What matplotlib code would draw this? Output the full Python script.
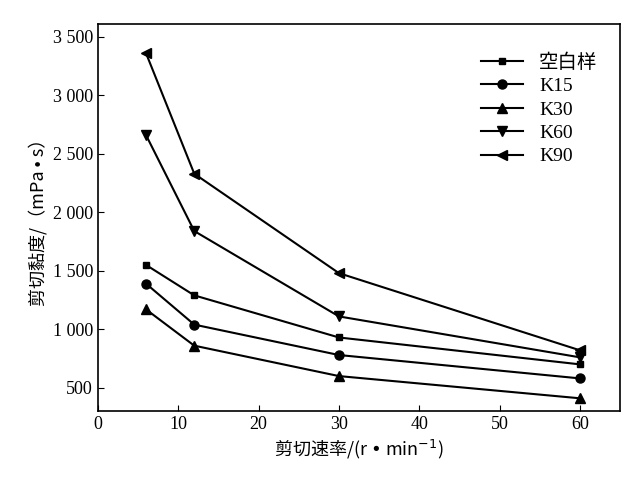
import matplotlib
matplotlib.use("Agg")
import matplotlib.pyplot as plt
from matplotlib.ticker import FuncFormatter

cjk = ['Noto Sans CJK SC', 'Noto Sans CJK JP', 'Noto Sans CJK TC', 'Noto Sans CJK KR']
plt.rcParams['font.family'] = ['Liberation Serif'] + cjk

x = [6, 12, 30, 60]
labels = ["空白样", "K15", "K30", "K60", "K90"]
blank = [1550, 1290, 930, 700]
k15 = [1390, 1040, 780, 580]
k30 = [1170, 860, 600, 410]
k60 = [2660, 1840, 1110, 760]
k90 = [3360, 2330, 1480, 820]
markers = ['s', 'o', '^', 'v', '<']

fig = plt.figure(figsize=(6.31, 4.92), dpi=100)
ax = fig.add_axes([0.155, 0.165, 0.828, 0.786])
for ys, lab, m in zip([blank, k15, k30, k60, k90], labels, markers):
	ax.plot(x, ys, color='black', lw=1.5, marker=m, ms=6.5 if m != 's' else 5, label=lab)

ax.set_xlim(0, 65)
ax.set_ylim(303, 3609)
ax.set_xticks([0, 10, 20, 30, 40, 50, 60])
ax.set_yticks([500, 1000, 1500, 2000, 2500, 3000, 3500])
ax.yaxis.set_major_formatter(FuncFormatter(lambda v, p: "{:,}".format(int(v)).replace(",", " ")))
ax.tick_params(labelsize=13, direction='in', length=4)
for s in ax.spines.values():
	s.set_linewidth(1.2)
ax.set_xlabel("剪切速率/(r • min$^{-1}$)", fontsize=13, family=cjk)
ax.set_ylabel("剪切黏度/（mPa • s）", fontsize=13, family=cjk)
ax.legend(frameon=False, loc='upper right', bbox_to_anchor=(0.99, 0.97), handlelength=2.2, labelspacing=0.3, prop={'family': ['Liberation Serif'] + cjk, 'size': 14})
fig.savefig("out.png")
